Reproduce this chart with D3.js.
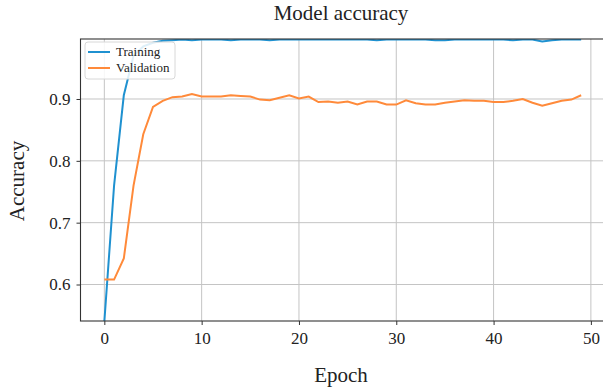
<!DOCTYPE html>
<html><head><meta charset="utf-8">
<script src="https://cdn.jsdelivr.net/npm/d3@7"></script>
<style>body{margin:0;background:#fff}svg{display:block}text{font-family:"Liberation Serif","DejaVu Serif",serif;fill:#222}</style>
</head><body>
<script>
const epochs = d3.range(0, 50);
const training = [0.540,0.760,0.906,0.970,0.985,0.991,0.994,0.995,0.996,0.995,
  0.996,0.996,0.996,0.995,0.996,0.996,0.996,0.995,0.996,0.996,
  0.996,0.996,0.996,0.996,0.996,0.996,0.996,0.996,0.995,0.996,
  0.996,0.996,0.996,0.996,0.995,0.995,0.996,0.996,0.996,0.996,
  0.996,0.996,0.995,0.996,0.996,0.993,0.995,0.996,0.996,0.996];
const validation = [0.608,0.608,0.642,0.760,0.843,0.887,0.897,0.903,0.904,0.908,
  0.904,0.904,0.904,0.906,0.905,0.904,0.899,0.898,0.902,0.906,
  0.901,0.904,0.895,0.896,0.894,0.896,0.891,0.896,0.896,0.891,
  0.891,0.898,0.893,0.891,0.891,0.894,0.896,0.898,0.897,0.897,
  0.895,0.895,0.897,0.900,0.894,0.889,0.893,0.897,0.899,0.906];
const xTicks = [0,10,20,30,40,50];
const yTicks = [0.6,0.7,0.8,0.9];
const seriesNames = ["Training","Validation"];
const colors = ["#1f91d0","#ff8a3a"];

const W=603,H=387;
const m={left:80.5,right:605,top:39,bottom:321};
const svg=d3.select("body").append("svg").attr("width",W).attr("height",H);
const x=d3.scaleLinear().domain([-2.45,51.45]).range([m.left,m.right]);
const y=d3.scaleLinear().domain([0.541,0.997]).range([m.bottom,m.top]);

svg.append("defs").append("clipPath").attr("id","c").append("rect")
  .attr("x",m.left).attr("y",m.top).attr("width",m.right-m.left).attr("height",m.bottom-m.top);

const grid=svg.append("g");
grid.selectAll(".gx").data(xTicks).join("line").attr("x1",d=>x(d)).attr("x2",d=>x(d))
  .attr("y1",m.top).attr("y2",m.bottom).attr("stroke","#c4c4c4").attr("stroke-width",1);
grid.selectAll(".gy").data(yTicks).join("line").attr("y1",d=>y(d)).attr("y2",d=>y(d))
  .attr("x1",m.left).attr("x2",m.right).attr("stroke","#c4c4c4").attr("stroke-width",1);

const line=d3.line().x((d,i)=>x(epochs[i])).y(d=>y(d));
const data=[training,validation];
svg.append("g").attr("clip-path","url(#c)").selectAll("path").data(data).join("path")
  .attr("d",line).attr("fill","none").attr("stroke",(d,i)=>colors[i]).attr("stroke-width",2);

svg.append("rect").attr("x",m.left).attr("y",m.top).attr("width",m.right-m.left).attr("height",m.bottom-m.top)
  .attr("fill","none").attr("stroke","#333").attr("stroke-width",1.1);

const xa=svg.append("g").attr("transform",`translate(0,${m.bottom})`)
  .call(d3.axisBottom(x).tickValues(xTicks).tickSize(4).tickPadding(7).tickFormat(d3.format("d")));
const ya=svg.append("g").attr("transform",`translate(${m.left},0)`)
  .call(d3.axisLeft(y).tickValues(yTicks).tickSize(4).tickPadding(6).tickFormat(d3.format(".1f")));
[xa,ya].forEach(a=>{a.select(".domain").remove();a.selectAll("line").attr("stroke","#333");
  a.selectAll("text").style("font-size","17px").attr("fill","#222").style("font-family",'"Liberation Serif",serif');});

svg.append("text").attr("x",341).attr("y",20).attr("text-anchor","middle").style("font-size","21px").text("Model accuracy");
svg.append("text").attr("x",341).attr("y",382).attr("text-anchor","middle").style("font-size","21px").text("Epoch");
svg.append("text").attr("transform",`translate(24,181) rotate(-90)`).attr("text-anchor","middle").style("font-size","21px").text("Accuracy");

const lg=svg.append("g");
lg.append("rect").attr("x",85).attr("y",42).attr("width",90).attr("height",37).attr("rx",3)
  .attr("fill","#fff").attr("fill-opacity",0.85).attr("stroke","#d8d8d8");
seriesNames.forEach((n,i)=>{
  const yy=52+i*16;
  lg.append("line").attr("x1",88).attr("x2",110).attr("y1",yy).attr("y2",yy).attr("stroke",colors[i]).attr("stroke-width",2);
  lg.append("text").attr("x",116).attr("y",yy+4).style("font-size","13px").text(n);
});
</script>
</body></html>
